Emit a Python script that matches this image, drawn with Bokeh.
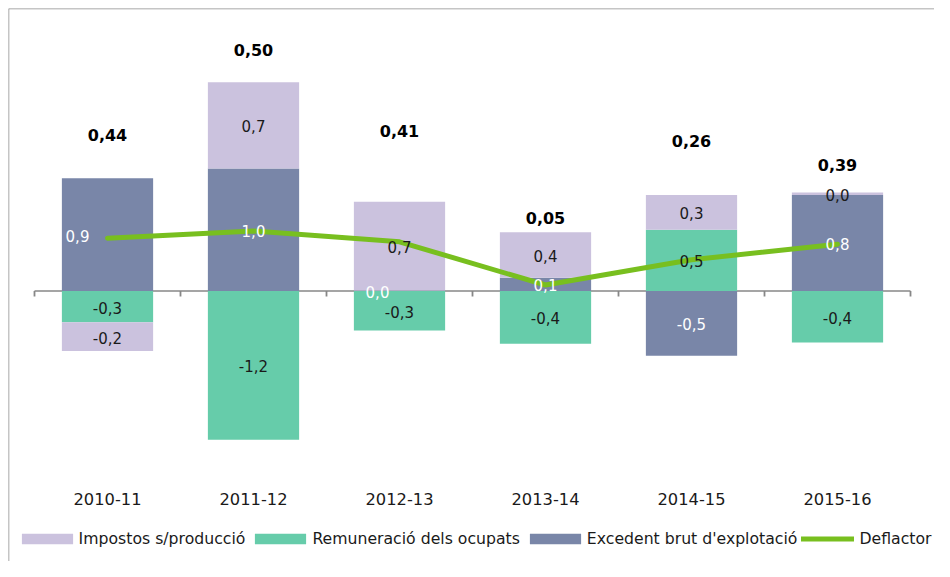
import numpy as np
from bokeh.plotting import figure
from bokeh.models import ColumnDataSource, Range1d, Legend, LegendItem, Span
from bokeh.core.properties import value
from bokeh.embed import file_html
from bokeh.resources import INLINE

# ---- data -------------------------------------------------------------
categories = ["2010-11", "2011-12", "2012-13", "2013-14", "2014-15", "2015-16"]
impostos = [-0.24, 0.72, 0.74, 0.38, 0.29, 0.02]        # Impostos s/producció
remuneracio = [-0.26, -1.24, -0.33, -0.44, 0.51, -0.43]  # Remuneració dels ocupats
excedent = [0.94, 1.02, 0.004, 0.11, -0.54, 0.80]        # Excedent brut d'explotació
deflactor = [0.44, 0.50, 0.41, 0.05, 0.26, 0.39]         # Deflactor
total_label_y = [1.30, 2.01, 1.33, 0.61, 1.25, 1.05]     # where the bold totals sit

# ---- styles / layout ----------------------------------------------------
C_IMP = "#CBC2DE"
C_REM = "#66CCAA"
C_EXC = "#7986A8"
C_LINE = "#78BF1F"
C_AXIS = "#878787"
C_BORDER = "#8c8c8c"
C_TEXT = "#1a1a1a"
FONT = value("DejaVu Sans")

W, H = 934, 561          # figure size
FRAME_L, FRAME_T = 8, 8  # frame starts at the chart's outer border
PX_X, PX_Y = 146.0, 120.0  # pixels per category / per unit
ZERO_X, ZERO_Y = 34.0, 290.5  # pixel position of first category edge / zero line

n = len(categories)
x = np.arange(n) + 0.5

fw, fh = W - FRAME_L, H - FRAME_T
x_start = -(ZERO_X - FRAME_L) / PX_X
y_end = (ZERO_Y - FRAME_T) / PX_Y

p = figure(width=W, height=H, output_backend="svg", toolbar_location=None,
           x_range=Range1d(x_start, x_start + fw / PX_X),
           y_range=Range1d(y_end - fh / PX_Y, y_end),
           x_axis_location=None, y_axis_location=None,
           min_border_left=FRAME_L, min_border_top=FRAME_T,
           min_border_right=0, min_border_bottom=0)
p.outline_line_color = None
p.xgrid.visible = False
p.ygrid.visible = False
p.background_fill_color = "white"
p.border_fill_color = "white"

# outer border (left & top visible in the reference)
p.add_layout(Span(location=x_start, dimension="height", line_color=C_BORDER, line_width=1.5))
p.add_layout(Span(location=y_end, dimension="width", line_color=C_BORDER, line_width=1.5))

# zero line with boundary ticks
p.segment(x0=[0], x1=[n], y0=[0], y1=[0], line_color=C_AXIS, line_width=1.6, level="underlay")
bounds = np.arange(n + 1)
p.segment(x0=bounds, x1=bounds, y0=np.zeros(n + 1), y1=np.full(n + 1, -5.5 / PX_Y),
          line_color=C_AXIS, line_width=1.8, level="underlay")

# stacked bars (positive and negative parts stacked separately)
pos = np.zeros(n)
neg = np.zeros(n)
series = [("rem", remuneracio, C_REM, C_TEXT),
          ("exc", excedent, C_EXC, "white"),
          ("imp", impostos, C_IMP, C_TEXT)]
renderers = {}
label_x, label_y, label_txt, label_col, label_dx = [], [], [], [], []
nudge = {("exc", 0): -30, ("exc", 2): -22}
for key, vals, color, tcol in series:
    v = np.array(vals, dtype=float)
    bottom = np.where(v >= 0, pos, neg)
    top = bottom + v
    pos = np.where(v >= 0, top, pos)
    neg = np.where(v < 0, top, neg)
    src = ColumnDataSource(dict(x=x, bottom=bottom, top=top))
    renderers[key] = p.vbar(x="x", bottom="bottom", top="top", width=0.625, source=src,
                            fill_color=color, line_color=None)
    for i in range(n):
        label_x.append(x[i])
        label_y.append((bottom[i] + top[i]) / 2)
        label_txt.append(f"{v[i]:.1f}".replace(".", ",").replace("-0,0", "0,0"))
        label_col.append(tcol)
        label_dx.append(nudge.get((key, i), 0))

# deflator line
line_r = p.line(x=x, y=deflactor, line_color=C_LINE, line_width=5,
                line_cap="round", line_join="round")

# segment labels
lsrc = ColumnDataSource(dict(x=label_x, y=label_y, t=label_txt, c=label_col, dx=label_dx))
p.text(x="x", y="y", text="t", text_color="c", x_offset="dx", y_offset=1, source=lsrc,
       text_align="center", text_baseline="middle", text_font=FONT, text_font_size="15px")

# totals
tsrc = ColumnDataSource(dict(x=x, y=total_label_y,
                             t=[f"{d:.2f}".replace(".", ",") for d in deflactor]))
p.text(x="x", y="y", text="t", source=tsrc, text_color="black", text_font_style="bold",
       text_align="center", text_baseline="middle", text_font=FONT, text_font_size="16px")

# category labels (placed low, below the plot)
csrc = ColumnDataSource(dict(x=x, y=np.zeros(n), t=categories))
p.text(x="x", y="y", text="t", source=csrc, y_offset=207.5, text_color=C_TEXT,
       text_align="center", text_baseline="middle", text_font=FONT, text_font_size="16.3px")


def style_legend(lg):
    lg.glyph_height = 13
    lg.spacing = 3
    lg.padding = 0
    lg.margin = 0
    lg.border_line_color = None
    lg.background_fill_alpha = 0
    lg.label_text_font = "DejaVu Sans"
    lg.label_text_font_size = "15.7px"
    lg.label_text_color = C_TEXT


legend_bars = Legend(items=[
    LegendItem(label="Impostos s/producció", renderers=[renderers["imp"]]),
    LegendItem(label="Remuneració dels ocupats", renderers=[renderers["rem"]]),
    LegendItem(label="Excedent brut d'explotació", renderers=[renderers["exc"]]),
], orientation="horizontal", location=(6.6, 13))
style_legend(legend_bars)
legend_bars.glyph_width = 64
legend_bars.label_standoff = 0
p.add_layout(legend_bars)

legend_line = Legend(items=[LegendItem(label="Deflactor", renderers=[line_r])],
                     orientation="horizontal", location=(792.5, 13))
style_legend(legend_line)
legend_line.glyph_width = 53
legend_line.label_standoff = 6
p.add_layout(legend_line)

open("out.html", "w").write(file_html(p, INLINE))
